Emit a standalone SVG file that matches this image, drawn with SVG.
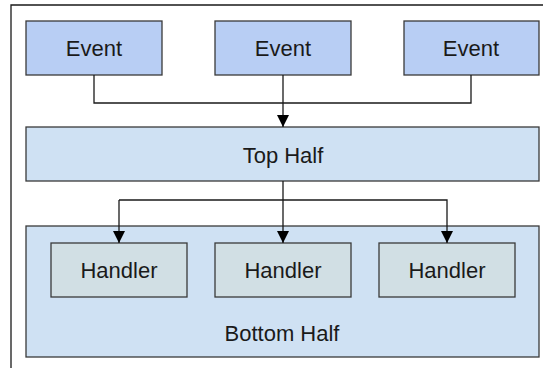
<svg xmlns="http://www.w3.org/2000/svg" width="543" height="368" viewBox="0 0 543 368">
<style>
.box{stroke:#3a3a3a;stroke-width:1.3}
.ev{fill:#b8cef4}
.half{fill:#cfe1f3}
.hd{fill:#d1dfe4}
text{font-family:"Liberation Sans",Arial,sans-serif;font-size:22px;fill:#1a1a1a;text-anchor:middle}
.line{fill:none;stroke:#1a1a1a;stroke-width:1.3}
</style>
<defs>
<marker id="arr" viewBox="0 0 12 12" markerWidth="12" markerHeight="12" refX="12" refY="6" orient="auto" markerUnits="userSpaceOnUse">
<path d="M0 0 L12 6 L0 12 Z" fill="#000"/>
</marker>
</defs>
<rect width="543" height="368" fill="#fff"/>
<path d="M11 368 V5 H543" fill="none" stroke="#1a1a1a" stroke-width="1.3"/>
<g id="bottom-half"><rect class="box half" x="26" y="226" width="513" height="131"/><text x="282" y="341">Bottom Half</text></g>
<g id="event1"><rect class="box ev" x="26" y="21" width="136" height="54"/><text x="94" y="56">Event</text></g>
<g id="event2"><rect class="box ev" x="215" y="21" width="136" height="54"/><text x="283" y="56">Event</text></g>
<g id="event3"><rect class="box ev" x="404" y="21" width="135" height="54"/><text x="471" y="56">Event</text></g>
<g id="top-half"><rect class="box half" x="26" y="127" width="513" height="54"/><text x="283" y="163">Top Half</text></g>
<g id="handler1"><rect class="box hd" x="51" y="243" width="136" height="54"/><text x="119" y="278">Handler</text></g>
<g id="handler2"><rect class="box hd" x="215" y="243" width="136" height="54"/><text x="283" y="278">Handler</text></g>
<g id="handler3"><rect class="box hd" x="379" y="243" width="136" height="54"/><text x="447" y="278">Handler</text></g>
<g id="connectors">
<path class="line" d="M94 75 V103 H471 V75"/>
<path class="line" d="M283 75 V127" marker-end="url(#arr)"/>
<path class="line" d="M283 181 V243" marker-end="url(#arr)"/>
<path class="line" d="M119 200 H447 V243" marker-end="url(#arr)"/>
<path class="line" d="M119 200 V243" marker-end="url(#arr)"/>
</g>
</svg>
